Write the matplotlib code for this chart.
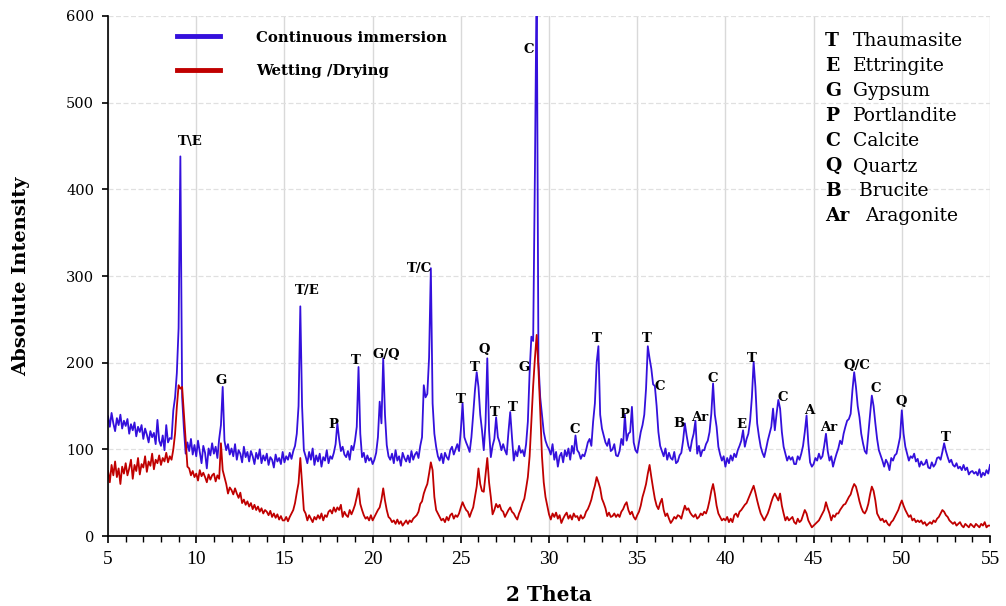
import numpy as np
import matplotlib
matplotlib.use("Agg")
import matplotlib.pyplot as plt

# 2-theta scan, 0.1 degree step from 5 to 55
two_theta = np.round(np.arange(5.0, 55.05, 0.1), 1)

# Continuous immersion (one row per degree)
continuous = [
    138, 126, 142, 130, 121, 136, 128, 140, 124, 133,   # 5
    127, 135, 118, 129, 122, 131, 115, 126, 120, 128,   # 6
    112, 124, 117, 108, 121, 114, 119, 106, 134, 110,   # 7
    104, 116, 99, 128, 108, 113, 112, 145, 160, 188,    # 8
    240, 438, 160, 124, 95, 108, 98, 112, 94, 105,      # 9
    92, 110, 97, 84, 104, 96, 78, 101, 93, 107,         # 10
    95, 103, 90, 112, 128, 172, 110, 99, 106, 94,       # 11
    101, 92, 106, 88, 99, 95, 85, 103, 91, 97,          # 12
    86, 98, 92, 83, 96, 89, 100, 84, 93, 87,            # 13
    95, 82, 91, 88, 79, 94, 86, 90, 83, 97,             # 14
    85, 92, 88, 96, 89, 98, 104, 118, 150, 265,         # 15
    150, 99, 92, 84, 97, 88, 101, 82, 93, 86,           # 16
    95, 80, 91, 87, 99, 84, 92, 89, 96, 106,            # 17
    130, 112, 98, 103, 94, 91, 98, 88, 104, 99,         # 18
    110, 126, 195, 118, 91, 96, 85, 93, 87, 90,         # 19
    83, 88, 96, 114, 155, 130, 205, 140, 105, 92,       # 20
    88, 95, 84, 99, 87, 92, 81, 96, 90, 86,             # 21
    93, 85, 98, 88, 94, 97, 90, 104, 114, 174,          # 22
    160, 164, 206, 309, 153, 118, 103, 92, 87, 95,      # 23
    84, 96, 91, 88, 99, 103, 94, 100, 106, 98,          # 24
    122, 153, 114, 108, 103, 97, 114, 140, 168, 189,    # 25
    172, 140, 122, 99, 130, 205, 122, 91, 104, 112,     # 26
    137, 114, 108, 99, 106, 99, 94, 120, 143, 114,      # 27
    87, 98, 92, 104, 96, 99, 92, 106, 132, 189,         # 28
    230, 225, 420, 650, 201, 160, 140, 120, 110, 104,   # 29
    100, 94, 106, 88, 97, 80, 92, 96, 85, 99,           # 30
    92, 101, 88, 104, 95, 116, 99, 96, 89, 94,          # 31
    92, 99, 108, 112, 104, 132, 153, 200, 219, 140,     # 32
    124, 116, 108, 104, 112, 98, 100, 106, 93, 92,      # 33
    98, 112, 105, 140, 110, 118, 120, 149, 108, 99,     # 34
    96, 108, 120, 128, 140, 170, 219, 205, 193, 175,    # 35
    173, 150, 120, 104, 98, 92, 101, 88, 96, 90,        # 36
    88, 97, 84, 86, 93, 96, 110, 130, 116, 104,         # 37
    98, 110, 118, 133, 95, 104, 92, 99, 99, 106,        # 38
    110, 120, 141, 176, 140, 126, 103, 94, 87, 92,      # 39
    80, 90, 84, 93, 87, 95, 91, 99, 104, 110,           # 40
    122, 103, 112, 118, 133, 160, 201, 172, 130, 115,   # 41
    103, 96, 91, 100, 110, 118, 126, 147, 122, 141,     # 42
    157, 147, 120, 103, 95, 87, 92, 88, 91, 83,         # 43
    83, 92, 88, 95, 104, 120, 139, 107, 85, 80,         # 44
    83, 90, 87, 95, 89, 92, 104, 118, 98, 87,           # 45
    92, 80, 88, 95, 101, 110, 106, 118, 126, 133,       # 46
    135, 141, 168, 189, 172, 150, 137, 118, 107, 98,    # 47
    95, 118, 140, 162, 150, 130, 112, 99, 93, 87,       # 48
    80, 88, 84, 76, 90, 87, 93, 95, 104, 114,           # 49
    145, 118, 103, 95, 87, 92, 90, 95, 86, 89,          # 50
    80, 86, 82, 83, 88, 79, 78, 85, 80, 83,             # 51
    90, 91, 88, 97, 107, 98, 91, 85, 88, 82,            # 52
    80, 84, 78, 80, 76, 82, 76, 79, 71, 74,             # 53
    75, 72, 74, 70, 77, 68, 73, 70, 76, 72,             # 54
    82,                                                 # 55
]

# Wetting / drying cycles
wet_dry = [
    75, 62, 82, 70, 86, 68, 78, 60, 80, 72,             # 5
    84, 70, 78, 88, 66, 82, 75, 90, 71, 83,             # 6
    79, 92, 74, 86, 81, 95, 77, 88, 84, 93,             # 7
    82, 90, 86, 96, 85, 92, 88, 100, 118, 149,          # 8
    174, 170, 172, 141, 111, 80, 78, 70, 75, 68,        # 9
    72, 64, 76, 69, 73, 68, 62, 71, 65, 70,             # 10
    72, 63, 70, 66, 107, 76, 68, 60, 49, 56,            # 11
    53, 48, 55, 49, 44, 50, 38, 42, 36, 40,             # 12
    34, 38, 31, 36, 30, 34, 28, 32, 26, 30,             # 13
    28, 24, 29, 22, 26, 21, 25, 19, 23, 18,             # 14
    18, 22, 17, 22, 26, 30, 38, 50, 61, 90,             # 15
    60, 30, 26, 18, 24, 20, 16, 22, 19, 24,             # 16
    20, 26, 18, 24, 22, 28, 30, 26, 33, 28,             # 17
    33, 30, 36, 22, 28, 24, 22, 30, 25, 30,             # 18
    36, 45, 55, 37, 30, 24, 20, 22, 18, 24,             # 19
    18, 22, 26, 30, 33, 42, 55, 41, 30, 22,             # 20
    20, 16, 18, 14, 19, 14, 17, 12, 15, 18,             # 21
    14, 18, 16, 20, 22, 24, 28, 37, 40, 49,             # 22
    55, 60, 72, 85, 76, 45, 30, 26, 22, 18,             # 23
    20, 16, 22, 18, 24, 26, 20, 24, 22, 26,             # 24
    33, 39, 34, 30, 28, 22, 28, 33, 45, 57,             # 25
    78, 60, 52, 51, 70, 90, 62, 45, 25, 30,             # 26
    37, 33, 36, 30, 28, 22, 26, 30, 33, 28,             # 27
    26, 22, 19, 26, 31, 38, 43, 55, 68, 92,             # 28
    132, 173, 205, 232, 193, 145, 92, 62, 45, 35,       # 29
    25, 19, 26, 22, 27, 20, 24, 15, 20, 24,             # 30
    27, 20, 24, 19, 26, 22, 23, 18, 24, 20,             # 31
    22, 28, 31, 36, 42, 51, 58, 68, 62, 55,             # 32
    43, 38, 32, 23, 27, 22, 23, 26, 22, 25,             # 33
    22, 28, 31, 36, 39, 30, 25, 28, 22, 19,             # 34
    24, 28, 35, 45, 52, 60, 72, 82, 68, 55,             # 35
    43, 35, 31, 38, 43, 30, 23, 26, 20, 15,             # 36
    18, 22, 20, 24, 23, 20, 28, 35, 30, 32,             # 37
    27, 24, 22, 25, 20, 22, 26, 24, 28, 26,             # 38
    32, 41, 52, 60, 49, 35, 26, 22, 18, 20,             # 39
    18, 22, 16, 20, 16, 24, 26, 22, 28, 30,             # 40
    33, 36, 38, 43, 48, 53, 58, 50, 41, 33,             # 41
    26, 22, 18, 22, 26, 32, 39, 45, 49, 45,             # 42
    41, 49, 35, 26, 18, 22, 18, 20, 22, 16,             # 43
    14, 20, 16, 18, 24, 30, 26, 18, 14, 10,             # 44
    12, 14, 16, 18, 22, 26, 30, 39, 32, 26,             # 45
    18, 24, 22, 26, 26, 30, 33, 36, 37, 41,             # 46
    45, 48, 55, 60, 57, 49, 40, 33, 28, 26,             # 47
    30, 37, 48, 57, 52, 41, 26, 22, 18, 20,             # 48
    16, 18, 14, 12, 16, 18, 22, 26, 30, 36,             # 49
    41, 35, 30, 26, 22, 24, 18, 20, 16, 18,             # 50
    16, 18, 14, 16, 12, 14, 16, 14, 18, 16,             # 51
    20, 22, 26, 30, 28, 24, 22, 18, 16, 14,             # 52
    16, 12, 14, 16, 12, 10, 14, 12, 10, 14,             # 53
    12, 10, 14, 12, 10, 14, 12, 16, 10, 12,             # 54
    12,                                                 # 55
]

# phase labels on the peaks
peak_labels = ["T\\E", "G", "T/E", "P", "T", "G/Q", "T/C", "T", "T", "Q", "T", "T",
               "G", "C", "C", "T", "P", "T", "C", "B", "Ar", "C", "E", "T", "C",
               "A", "Ar", "Q/C", "C", "Q", "T"]
label_x = [9.65, 11.4, 16.3, 17.75, 19.05, 20.8, 22.65, 25.0, 25.8, 26.35, 26.9, 27.95,
           28.6, 28.85, 31.45, 32.7, 34.25, 35.55, 36.25, 37.35, 38.55, 39.3, 40.9, 41.5,
           43.25, 44.75, 45.85, 47.45, 48.55, 49.95, 52.5]
label_y = [455, 180, 283, 129, 203, 210, 309, 158, 194, 215, 142, 148,
           195, 561, 123, 228, 140, 228, 173, 130, 137, 182, 129, 205,
           160, 145, 125, 197, 170, 155, 114]

# phase key
key_codes = ["T", "E", "G", "P", "C", "Q", "B", "Ar"]
key_names = ["Thaumasite", "Ettringite", "Gypsum", "Portlandite", "Calcite",
             "Quartz", " Brucite", "Aragonite"]

blue = "#3410DC"
red = "#C00000"
serif = "DejaVu Serif"

fig = plt.figure(figsize=(10.06, 6.06), dpi=100)
ax = fig.add_axes([0.1074, 0.1155, 0.8767, 0.8581])

ax.plot(two_theta, continuous, color=blue, lw=1.3, label="Continuous immersion")
ax.plot(two_theta, wet_dry, color=red, lw=1.3, label="Wetting /Drying")

ax.set_xlim(5, 55)
ax.set_ylim(0, 600)
ax.set_xticks(range(5, 56, 5))
ax.set_xticks(range(5, 56, 1), minor=True)
ax.set_yticks(range(0, 601, 100))

ax.grid(True, axis="x", color="#d9d9d9", lw=1.0)
ax.grid(True, axis="y", color="#e0e0e0", lw=0.9, linestyle=(0, (4, 2)))
ax.set_axisbelow(True)

for s in ["top", "right"]:
    ax.spines[s].set_visible(False)
ax.spines["left"].set_color("black")
ax.spines["bottom"].set_color("black")
ax.spines["left"].set_linewidth(1.2)
ax.spines["bottom"].set_linewidth(1.2)

ax.tick_params(axis="x", which="major", direction="out", length=5, width=1.2, pad=6)
ax.tick_params(axis="x", which="minor", direction="out", length=4, width=1.0)
ax.tick_params(axis="y", which="major", direction="out", length=4, width=1.2, pad=6)
for t in ax.get_xticklabels():
    t.set_fontfamily("Liberation Serif")
    t.set_fontsize(14)
for t in ax.get_yticklabels():
    t.set_fontfamily(serif)
    t.set_fontsize(10.5)

ax.set_xlabel("2 Theta", fontfamily=serif, fontweight="bold", fontsize=14.5, labelpad=12)
ax.set_ylabel("Absolute Intensity", fontfamily=serif, fontweight="bold", fontsize=14, labelpad=26)

for lab, x, y in zip(peak_labels, label_x, label_y):
    ax.text(x, y, lab, ha="center", va="center", fontfamily=serif,
            fontweight="bold", fontsize=9.5)

leg = ax.legend(loc="upper left", bbox_to_anchor=(0.078, 0.972), frameon=False,
                prop={"family": serif, "weight": "bold", "size": 10.7},
                handlelength=2.9, handletextpad=2.45, labelspacing=1.3,
                borderpad=0, borderaxespad=0)
for h in leg.get_lines():
    h.set_linewidth(3.5)

for i, (code, name) in enumerate(zip(key_codes, key_names)):
    yk = 0.9525 - i * 0.0481
    ax.text(0.813, yk, code, transform=ax.transAxes, ha="left", va="center",
            fontfamily=serif, fontweight="bold", fontsize=13.5)
    ax.text(0.845 if code != "Ar" else 0.858, yk, name, transform=ax.transAxes,
            ha="left", va="center", fontfamily=serif, fontsize=13.5)

fig.savefig("out.png", dpi=100)
